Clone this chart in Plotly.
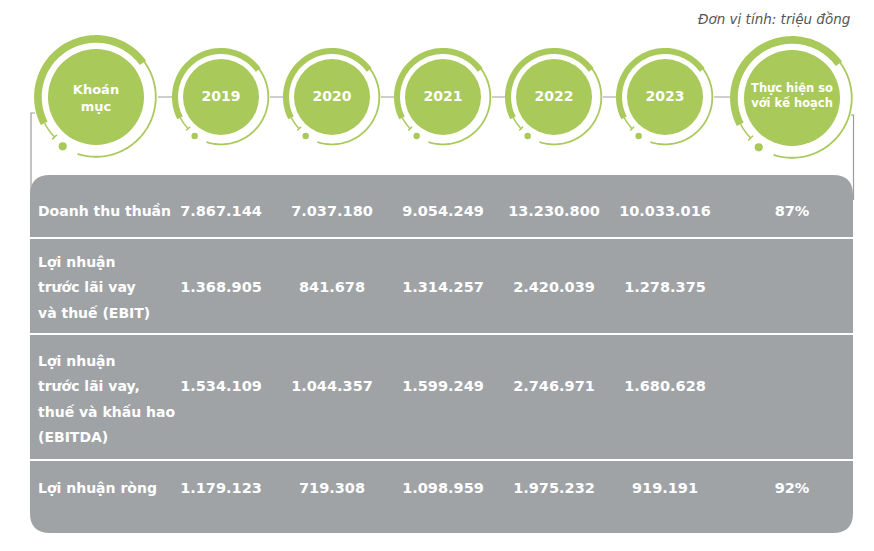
import numpy as np
import plotly.graph_objects as go

# ---------------- data ----------------
header_labels = ["Khoán<br>mục", "2019", "2020", "2021", "2022", "2023", "Thực hiện so<br>với kế hoạch"]
row_label_lines = [
    ["Doanh thu thuần"],
    ["Lợi nhuận", "trước lãi vay", "và thuế (EBIT)"],
    ["Lợi nhuận", "trước lãi vay,", "thuế và khấu hao", "(EBITDA)"],
    ["Lợi nhuận ròng"],
]
val_2019 = [7867144, 1368905, 1534109, 1179123]
val_2020 = [7037180, 841678, 1044357, 719308]
val_2021 = [9054249, 1314257, 1599249, 1098959]
val_2022 = [13230800, 2420039, 2746971, 1975232]
val_2023 = [10033016, 1278375, 1680628, 919191]
plan_pct = [87, None, None, 92]
unit_note = "Đơn vị tính: triệu đồng"

# ---------------- layout constants ----------------
W, H = 874, 551
GREEN = "#a9c95a"
GRAY = "#a0a3a6"
LINE_GRAY = "#9c9c9c"
FONT = "DejaVu Sans"
COL_X = [96, 221, 332, 443, 554, 665, 792]
CIRCLE_Y = [97, 97, 97, 97, 97, 97, 98]
CIRCLE_R = [48, 38, 38, 38, 38, 38, 48]
LABEL_X = 38
ROW_FIRST_Y = [212, 263, 362, 489]
VALUE_LINE = [0, 1, 1, 0]
LINE_H = 25.5
BOX = (30, 175, 853, 533)
SEPARATORS = [238, 334, 460]

shapes = []


def pts_path(xs, ys, close=False):
    d = "M " + " L ".join(f"{x:.2f},{y:.2f}" for x, y in zip(xs, ys))
    return d + (" Z" if close else "")


def ring(cx, cy, R):
    out = []
    out.append(dict(type="circle", x0=cx - R, x1=cx + R, y0=cy - R, y1=cy + R,
                    fillcolor=GREEN, line=dict(width=0), layer="below"))
    # thick band
    t = np.radians(np.linspace(36, 207, 80))
    r1, r2 = 1.13 * R, 1.29 * R
    xs = np.concatenate([cx + r2 * np.cos(t), cx + r1 * np.cos(t[::-1])])
    ys = np.concatenate([cy - r2 * np.sin(t), cy - r1 * np.sin(t[::-1])])
    out.append(dict(type="path", path=pts_path(xs, ys, True), fillcolor=GREEN,
                    line=dict(width=0), layer="below"))
    # thin arc right/bottom
    t = np.radians(np.linspace(38, -108, 90))
    rt = 1.245 * R
    out.append(dict(type="path", path=pts_path(cx + rt * np.cos(t), cy - rt * np.sin(t)),
                    line=dict(color=GREEN, width=1.8), layer="below"))
    # small segment lower-left
    t = np.radians(np.linspace(207, 224, 20))
    rs = 1.2 * R
    out.append(dict(type="path", path=pts_path(cx + rs * np.cos(t), cy - rs * np.sin(t)),
                    line=dict(color=GREEN, width=1.5), layer="below"))
    a = np.radians(224)
    out.append(dict(type="line", x0=cx + 1.13 * R * np.cos(a), y0=cy - 1.13 * R * np.sin(a),
                    x1=cx + 1.27 * R * np.cos(a), y1=cy - 1.27 * R * np.sin(a),
                    line=dict(color=GREEN, width=1.5), layer="below"))
    # dot
    a = np.radians(236)
    dx, dy = cx + 1.24 * R * np.cos(a), cy - 1.24 * R * np.sin(a)
    dr = 0.085 * R
    out.append(dict(type="circle", x0=dx - dr, x1=dx + dr, y0=dy - dr, y1=dy + dr,
                    fillcolor=GREEN, line=dict(width=0), layer="below"))
    return out


# connectors between circles
for i in range(len(COL_X) - 1):
    x0 = COL_X[i] + 1.29 * CIRCLE_R[i]
    x1 = COL_X[i + 1] - 1.29 * CIRCLE_R[i + 1]
    shapes.append(dict(type="line", x0=x0, x1=x1, y0=97, y1=97,
                       line=dict(color=LINE_GRAY, width=1), layer="below"))

# side brackets
shapes.append(dict(type="path", path="M 35,113 L 31,113 L 31,200",
                   line=dict(color=LINE_GRAY, width=1.2), layer="below"))
shapes.append(dict(type="path", path="M 851,115 L 853.5,115 L 853.5,200",
                   line=dict(color=LINE_GRAY, width=1.2), layer="below"))

for cx, cy, R in zip(COL_X, CIRCLE_Y, CIRCLE_R):
    shapes += ring(cx, cy, R)

# table box
x0, y0, x1, y1 = BOX
r = 20
box_path = (f"M {x0 + r},{y0} L {x1 - r},{y0} Q {x1},{y0} {x1},{y0 + r} "
            f"L {x1},{y1 - r} Q {x1},{y1} {x1 - r},{y1} L {x0 + r},{y1} "
            f"Q {x0},{y1} {x0},{y1 - r} L {x0},{y0 + r} Q {x0},{y0} {x0 + r},{y0} Z")
shapes.append(dict(type="path", path=box_path, fillcolor=GRAY, line=dict(width=0), layer="below"))
for sy in SEPARATORS:
    shapes.append(dict(type="line", x0=x0, x1=x1, y0=sy, y1=sy,
                       line=dict(color="white", width=2), layer="below"))

fig = go.Figure()

# header texts
fig.add_trace(go.Scatter(x=COL_X[:1], y=[99], text=header_labels[:1], mode="text",
                         textfont=dict(family=FONT, size=13, color="white", weight="bold"),
                         hoverinfo="skip"))
fig.add_trace(go.Scatter(x=COL_X[1:6], y=[97] * 5, text=header_labels[1:6], mode="text",
                         textfont=dict(family=FONT, size=14, color="white", weight="bold"),
                         hoverinfo="skip"))
fig.add_trace(go.Scatter(x=COL_X[6:], y=[97], text=header_labels[6:], mode="text",
                         textfont=dict(family=FONT, size=11.5, color="white", weight="bold"),
                         hoverinfo="skip"))

# row labels
lx, ly, lt = [], [], []
for i, lines in enumerate(row_label_lines):
    for k, line in enumerate(lines):
        lx.append(LABEL_X)
        ly.append(ROW_FIRST_Y[i] + k * LINE_H)
        lt.append(line)
fig.add_trace(go.Scatter(x=lx, y=ly, text=lt, mode="text", textposition="middle right",
                         textfont=dict(family=FONT, size=14, color="white", weight="bold"),
                         hoverinfo="skip"))

value_y = [ROW_FIRST_Y[i] + VALUE_LINE[i] * LINE_H for i in range(4)]


def fmt(v):
    return f"{v:,}".replace(",", ".")


for j, vals in enumerate([val_2019, val_2020, val_2021, val_2022, val_2023]):
    fig.add_trace(go.Scatter(x=[COL_X[j + 1]] * 4, y=value_y, text=[fmt(v) for v in vals],
                             mode="text",
                             textfont=dict(family=FONT, size=14.5, color="white", weight="bold"),
                             hoverinfo="skip"))
fig.add_trace(go.Scatter(x=[COL_X[6]] * 4, y=value_y,
                         text=[f"{p}%" if p is not None else "" for p in plan_pct],
                         mode="text",
                         textfont=dict(family=FONT, size=14.5, color="white", weight="bold"),
                         hoverinfo="skip"))

fig.add_annotation(x=853, y=19, xref="x", yref="y", text=f"<i>{unit_note}</i>",
                   showarrow=False, xanchor="right", yanchor="middle",
                   font=dict(family=FONT, size=13.5, color="#555555"))

fig.update_layout(
    width=W, height=H, margin=dict(l=0, r=0, t=0, b=0),
    paper_bgcolor="white", plot_bgcolor="white", showlegend=False,
    shapes=shapes,
    xaxis=dict(range=[0, W], visible=False, fixedrange=True),
    yaxis=dict(range=[H, 0], visible=False, fixedrange=True),
)

fig.write_html("out.html", config={"displayModeBar": False},
               post_script="document.body.style.margin='0';document.body.style.overflow='hidden';")
